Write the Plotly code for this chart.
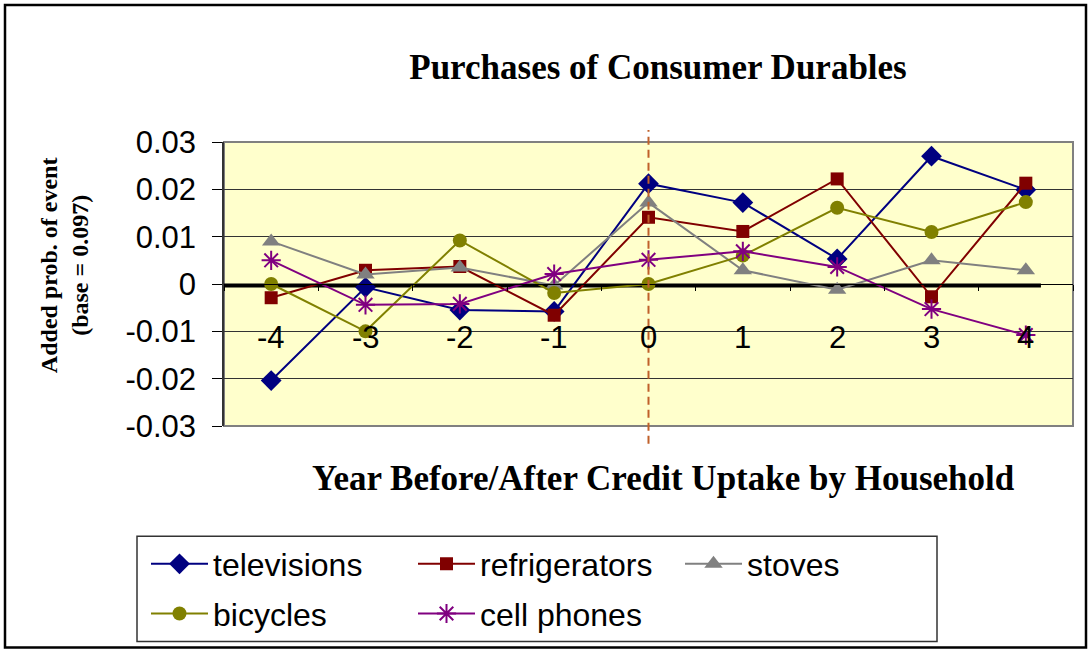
import plotly.graph_objects as go

years = [-4, -3, -2, -1, 0, 1, 2, 3, 4]
year_labels = ["-4", "-3", "-2", "-1", "0", "1", "2", "3", "4"]

televisions = [-0.0204, -0.0007, -0.0055, -0.0058, 0.0212, 0.0172, 0.0053, 0.0270, 0.0199]
refrigerators = [-0.0029, 0.0029, 0.0037, -0.0066, 0.0141, 0.0111, 0.0222, -0.0027, 0.0213]
stoves = [0.0090, 0.0020, 0.0035, -0.0003, 0.0172, 0.0029, -0.0012, 0.0050, 0.0029]
bicycles = [0.0000, -0.0100, 0.0092, -0.0019, 0.0000, 0.0060, 0.0161, 0.0110, 0.0173]
cell_phones = [0.0050, -0.0044, -0.0042, 0.0021, 0.0051, 0.0069, 0.0036, -0.0053, -0.0108]

y_ticks = [-0.03, -0.02, -0.01, 0, 0.01, 0.02, 0.03]
y_tick_labels = ["-0.03", "-0.02", "-0.01", "0", "0.01", "0.02", "0.03"]

series = [
    ("televisions", televisions, "#000080", dict(symbol="diamond", size=16), "legend"),
    ("refrigerators", refrigerators, "#800000", dict(symbol="square", size=13), "legend"),
    ("stoves", stoves, "#808080", dict(symbol="triangle-up", size=16), "legend"),
    ("bicycles", bicycles, "#808000", dict(symbol="circle", size=14), "legend2"),
    ("cell phones", cell_phones, "#800080", dict(symbol="asterisk-open", size=16), "legend2"),
]

fig = go.Figure()
for name, vals, color, mk, leg in series:
    m = dict(mk, color=color, line=dict(color=color, width=2 if mk["symbol"].startswith("asterisk") else 0))
    fig.add_trace(go.Scatter(x=years, y=vals, name=name, mode="lines+markers",
                             line=dict(color=color, width=2), marker=m, legend=leg))

W, H = 1090, 653
L, R, T, B = 224, 1073, 142, 428
pw, ph = R - L, B - T

def px(xp):
    return (xp - L) / pw

def py(yp):
    return (B - yp) / ph

shapes = [
    dict(type="rect", xref="paper", yref="paper", x0=0, x1=1, y0=0, y1=1,
         line=dict(color="#808080", width=2), layer="below"),
    dict(type="line", xref="x", yref="y", x0=-4.5, x1=4.16, y0=-0.0003, y1=-0.0003,
         line=dict(color="black", width=4), layer="below"),
    dict(type="line", xref="x", yref="paper", x0=0, x1=0, y0=py(446), y1=py(130),
         line=dict(color="#C0602A", width=2, dash="8px,5px")),
    dict(type="rect", xref="paper", yref="paper", x0=px(137), x1=px(937), y0=py(645), y1=py(539),
         line=dict(color="#333333", width=1.5)),
    dict(type="rect", xref="paper", yref="paper", x0=px(5), x1=px(1086), y0=py(651), y1=py(4),
         line=dict(color="black", width=2.5)),
]

annotations = []
for xv, lab in zip(years, year_labels):
    annotations.append(dict(x=xv, y=-0.0114, xref="x", yref="y", text=lab, showarrow=False,
                            font=dict(family="Liberation Sans, Arial", size=31, color="black"),
                            xanchor="center", yanchor="middle"))
annotations.append(dict(x=px(663), y=py(481), xref="paper", yref="paper",
                        text="<b>Year Before/After Credit Uptake by Household</b>", showarrow=False,
                        font=dict(family="Liberation Serif, Times New Roman", size=35, color="black"),
                        xanchor="center", yanchor="middle"))
annotations.append(dict(x=px(64), y=py(266), xref="paper", yref="paper",
                        text="<b>Added prob. of event<br>(base = 0.097)</b>", showarrow=False,
                        textangle=-90,
                        font=dict(family="Liberation Serif, Times New Roman", size=24, color="black"),
                        xanchor="center", yanchor="middle"))

legend_common = dict(orientation="h", bgcolor="rgba(0,0,0,0)", borderwidth=0,
                     font=dict(family="Liberation Sans, Arial", size=32, color="black"),
                     entrywidth=195, entrywidthmode="pixels", itemwidth=57,
                     xanchor="left", yanchor="middle", itemclick=False)

fig.update_layout(
    width=W, height=H,
    margin=dict(l=L, r=W - R, t=T, b=H - B),
    paper_bgcolor="white",
    plot_bgcolor="#FFFFCC",
    title=dict(text="<b>Purchases of Consumer Durables</b>", x=658 / W, xanchor="center",
               y=1 - 67 / H, yanchor="middle",
               font=dict(family="Liberation Serif, Times New Roman", size=35, color="black")),
    xaxis=dict(range=[-4.5, 4.5], showgrid=False, zeroline=False, showline=True,
               linecolor="black", linewidth=1, anchor="free", position=0.5,
               showticklabels=False, ticks="",
               minor=dict(ticks="outside", tick0=-4.5, dtick=1, ticklen=6, tickcolor="black", tickwidth=1,
                          showgrid=False)),
    yaxis=dict(range=[-0.03, 0.03], tickvals=y_ticks, ticktext=y_tick_labels,
               showgrid=True, gridcolor="#333333", gridwidth=1, zeroline=False,
               showline=True, linecolor="#333333", linewidth=1.5,
               ticks="outside", ticklen=10, tickcolor="black", ticklabelstandoff=10,
               tickfont=dict(family="Liberation Sans, Arial", size=31, color="black")),
    shapes=shapes,
    annotations=annotations,
    legend=dict(legend_common, x=px(146), y=py(567)),
    legend2=dict(legend_common, x=px(146), y=py(617)),
    showlegend=True,
)

fig.write_html("out.html", config={"displayModeBar": False},
               post_script="document.body.style.margin='0';document.body.style.padding='0';")
